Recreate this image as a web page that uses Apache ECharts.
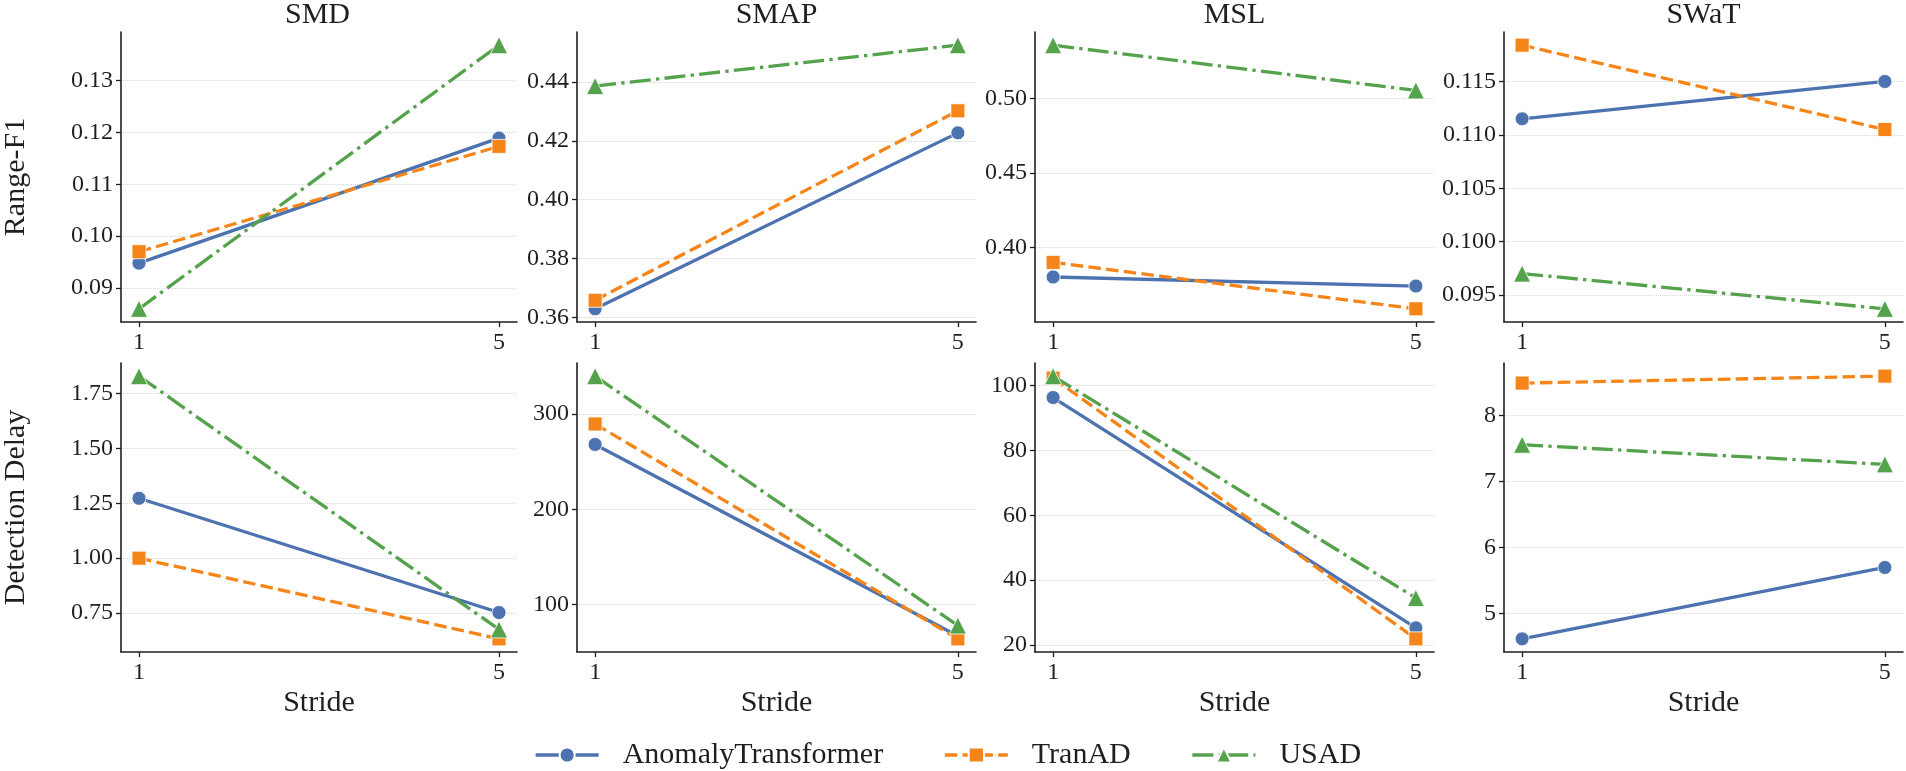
<!DOCTYPE html>
<html><head><meta charset="utf-8">
<script src="https://cdn.jsdelivr.net/npm/echarts@6/dist/echarts.min.js"></script>
<style>html,body{margin:0;padding:0;background:#fff}#c{width:1906px;height:771px}</style>
</head><body><div id="c"></div>
<script>
// ---------------- data ----------------
const strides = [1, 5];
const datasets = ['SMD', 'SMAP', 'MSL', 'SWaT'];
const models = ['AnomalyTransformer', 'TranAD', 'USAD'];
// Range-F1, per dataset: [stride 1, stride 5]
const f1AnomalyTransformer = [[0.0948, 0.1189], [0.3629, 0.4227], [0.3802, 0.3741], [0.1115, 0.1150]];
const f1TranAD             = [[0.0970, 0.1173], [0.3658, 0.4302], [0.3900, 0.3588], [0.1184, 0.1105]];
const f1USAD               = [[0.0860, 0.1368], [0.4386, 0.4525], [0.5360, 0.5056], [0.0970, 0.0937]];
// Detection Delay, per dataset: [stride 1, stride 5]
const delayAnomalyTransformer = [[1.273, 0.752], [268, 67], [96.3, 25.3], [4.62, 5.70]];
const delayTranAD             = [[1.000, 0.632], [289.5, 64], [102.3, 21.9], [8.49, 8.595]];
const delayUSAD               = [[1.830, 0.675], [339.7, 78], [102.9, 34.5], [7.557, 7.26]];
// tick labels
const xTickLabels = ['1', '5'];
const f1TickLabels = [
  ['0.09', '0.10', '0.11', '0.12', '0.13'],
  ['0.36', '0.38', '0.40', '0.42', '0.44'],
  ['0.40', '0.45', '0.50'],
  ['0.095', '0.100', '0.105', '0.110', '0.115']
];
const delayTickLabels = [
  ['0.75', '1.00', '1.25', '1.50', '1.75'],
  ['100', '200', '300'],
  ['20', '40', '60', '80', '100'],
  ['5', '6', '7', '8']
];
const rowNames = ['Range-F1', 'Detection Delay'];
const xName = 'Stride';

// ---------------- style / layout ----------------
const FONT = '"Liberation Serif", "Times New Roman", serif';
const INK = '#1f1f1f';
const colors = ['#4c72b0', '#f58518', '#54a24b'];
const symbols = ['circle', 'rect', 'triangle'];
const symbolSizes = [14, 14, 17];
const lineTypes = ['solid', [12.5, 5.3], [21, 5.3, 3.3, 5.3]];
const colLeft = [118, 577, 1035, 1504];
const gridW = 399;
const rowTop = [32, 363];
const gridH = [290, 289];

function padRange(vals) {
  const lo = Math.min(...vals), hi = Math.max(...vals), s = hi - lo;
  return [lo - 0.05 * s, hi + 0.05 * s];
}
function labelFormatter(labels) {
  const nums = labels.map(Number);
  return v => {
    const i = nums.findIndex(n => Math.abs(n - v) < 1e-9);
    return i >= 0 ? labels[i] : '';
  };
}
function axisCommon(labels, margin) {
  const nums = labels.map(Number);
  return {
    axisLine: { show: true, onZero: false, lineStyle: { color: INK, width: 1.6 } },
    axisTick: { show: true, length: 5, customValues: nums, lineStyle: { color: INK, width: 1.3 } },
    axisLabel: { customValues: nums, formatter: labelFormatter(labels), fontFamily: FONT, fontSize: 24, color: INK, margin: margin },
  };
}

const rows = [
  [f1AnomalyTransformer, f1TranAD, f1USAD],
  [delayAnomalyTransformer, delayTranAD, delayUSAD]
];
const rowTicks = [f1TickLabels, delayTickLabels];

const grid = [], xAxis = [], yAxis = [], series = [], title = [];
rows.forEach((row, r) => {
  datasets.forEach((ds, c) => {
    const gi = grid.length;
    grid.push({ left: colLeft[c], top: rowTop[r], width: gridW, height: gridH[r] });
    const [xmin, xmax] = padRange(strides);
    const [ymin, ymax] = padRange(row.flatMap(m => m[c]));
    xAxis.push(Object.assign({
      type: 'value', gridIndex: gi, min: xmin, max: xmax,
      splitLine: { show: false },
      name: r === 1 ? xName : '', nameLocation: 'middle', nameGap: 36,
      nameTextStyle: { fontFamily: FONT, fontSize: 30, color: INK }
    }, axisCommon(xTickLabels, 9)));
    yAxis.push(Object.assign({
      type: 'value', gridIndex: gi, min: ymin, max: ymax,
      splitLine: { show: true, lineStyle: { type: 'dotted', color: '#d6d6d6', width: 1 } },
      name: c === 0 ? rowNames[r] : '', nameLocation: 'middle', nameRotate: 90, nameGap: 90,
      nameTextStyle: { fontFamily: FONT, fontSize: 30, color: INK }
    }, axisCommon(rowTicks[r][c], 8)));
    row.forEach((m, k) => {
      series.push({
        type: 'line', name: models[k], xAxisIndex: gi, yAxisIndex: gi,
        data: strides.map((s, i) => [s, m[c][i]]),
        symbol: symbols[k], symbolSize: symbolSizes[k], showSymbol: true,
        lineStyle: { color: colors[k], width: 3.3, type: lineTypes[k], cap: 'butt' },
        itemStyle: { color: colors[k], borderColor: '#ffffff', borderWidth: 0.8 },
        emphasis: { disabled: true }, z: 2 + k, clip: false
      });
    });
  });
});
datasets.forEach((ds, c) => {
  title.push({
    text: ds, left: colLeft[c] + gridW / 2, top: 0, textAlign: 'center', padding: 0,
    textStyle: { fontFamily: FONT, fontSize: 30, fontWeight: 'normal', color: INK }
  });
});

const chart = echarts.init(document.getElementById('c'), null, { renderer: 'canvas' });
chart.setOption({
  backgroundColor: '#ffffff',
  animation: false,
  title, grid, xAxis, yAxis, series,
  legend: {
    data: models, left: 529, top: 735, itemWidth: 63, itemHeight: 19, itemGap: 60,
    lineStyle: { width: 3.3 },
    textStyle: { fontFamily: FONT, fontSize: 30, color: INK, padding: [0, 0, 0, 19] }
  }
});
</script></body></html>
